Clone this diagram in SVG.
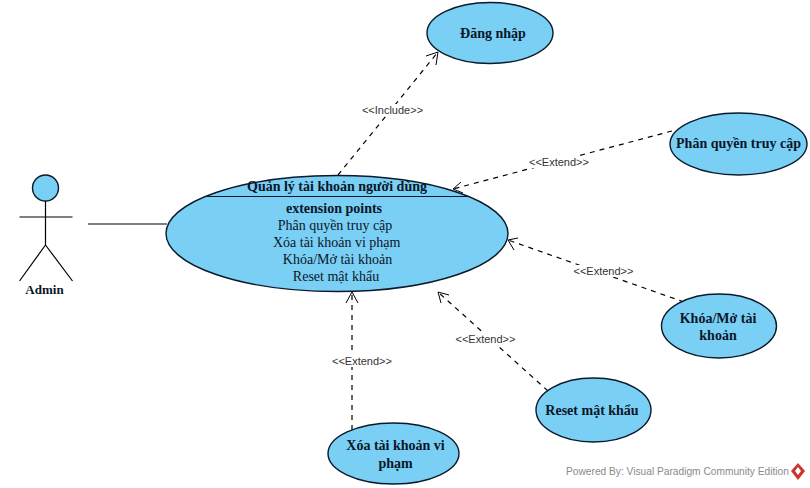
<svg xmlns="http://www.w3.org/2000/svg" width="810" height="488" viewBox="0 0 810 488">
<style>
.uc{fill:#7acff5;stroke:#0a1a2a;stroke-width:1.4}
.t{font-family:"Liberation Serif",serif;font-size:14px;fill:#0a1628;text-anchor:middle}
.b{font-weight:bold}
.l{font-family:"Liberation Sans",sans-serif;font-size:11px;fill:#333;text-anchor:middle}
.d{fill:none;stroke:#000;stroke-width:1.2;stroke-dasharray:5 5}
.h{fill:none;stroke:#000;stroke-width:1}
.s{fill:none;stroke:#000;stroke-width:1.2}
</style>
<rect width="810" height="488" fill="#fff"/>
<g id="connectors">
<line class="s" x1="88" y1="224" x2="167" y2="224"/>
<line class="d" x1="338" y1="175" x2="438" y2="52"/>
<path class="h" d="M426 56L438 52L436 65"/>
<line class="d" x1="672" y1="131" x2="453" y2="189"/>
<path class="h" d="M461 182L453 189L463 193"/>
<line class="d" x1="684" y1="302" x2="508" y2="240"/>
<path class="h" d="M518 238L508 240L514 250"/>
<line class="d" x1="548" y1="391" x2="438" y2="292"/>
<path class="h" d="M449 295L438 292L441 303"/>
<line class="d" x1="352" y1="430" x2="352" y2="292"/>
<path class="h" d="M346 303L352 292L358 303"/>
</g>
<g id="lbl-include"><rect x="361" y="104" width="63" height="12" fill="#fff"/><text class="l" x="392.500" y="114">&lt;&lt;Include&gt;&gt;</text></g>
<g id="lbl-e1"><rect x="528" y="156" width="62" height="12" fill="#fff"/><text class="l" x="559" y="166">&lt;&lt;Extend&gt;&gt;</text></g>
<g id="lbl-e2"><rect x="573" y="265" width="62" height="12" fill="#fff"/><text class="l" x="603.500" y="275">&lt;&lt;Extend&gt;&gt;</text></g>
<g id="lbl-e3"><rect x="455" y="333" width="62" height="12" fill="#fff"/><text class="l" x="485.500" y="343">&lt;&lt;Extend&gt;&gt;</text></g>
<g id="lbl-e4"><rect x="331" y="355" width="62" height="12" fill="#fff"/><text class="l" x="362" y="365">&lt;&lt;Extend&gt;&gt;</text></g>
<g id="admin">
<circle class="uc" cx="45.500" cy="188" r="13"/>
<path class="s" d="M45.500 201V245M19.500 217H72.500M45.500 245L19.500 281M45.500 245L72.500 281"/>
<text class="t b" x="44.500" y="294" style="font-size:13px">Admin</text>
</g>
<g id="main">
<ellipse class="uc" cx="337" cy="233.500" rx="171" ry="58"/>
<line x1="207" y1="196.500" x2="468" y2="196.500" stroke="#0a1a2a" stroke-width="1.2"/>
<text class="t b" x="337" y="191">Quản lý tài khoản người dùng</text>
<text class="t b" x="334" y="213">extension points</text>
<text class="t" x="335" y="230">Phân quyền truy cập</text>
<text class="t" x="336.700" y="247">Xóa tài khoản vi phạm</text>
<text class="t" x="337.500" y="264">Khóa/Mở tài khoản</text>
<text class="t" x="336" y="281">Reset mật khẩu</text>
</g>
<g id="dangnhap"><ellipse class="uc" cx="490" cy="33" rx="63" ry="30.500"/><text class="t b" x="493" y="38">Đăng nhập</text></g>
<g id="phanquyen"><ellipse class="uc" cx="738.500" cy="144" rx="68.500" ry="31"/><text class="t b" x="738.500" y="148">Phân quyền truy cập</text></g>
<g id="khoa"><ellipse class="uc" cx="719" cy="326" rx="57.500" ry="32"/><text class="t b" x="718" y="323">Khóa/Mở tài</text><text class="t b" x="718" y="340">khoản</text></g>
<g id="reset"><ellipse class="uc" cx="593.500" cy="410" rx="57.500" ry="32"/><text class="t b" x="592" y="415">Reset mật khẩu</text></g>
<g id="xoa"><ellipse class="uc" cx="393.500" cy="453.500" rx="65.500" ry="30.500"/><text class="t b" x="395.500" y="450">Xóa tài khoản vi</text><text class="t b" x="395.500" y="468">phạm</text></g>
<g id="watermark">
<text x="566" y="475" font-family="Liberation Sans,sans-serif" font-size="10.200" fill="#8a8a8a">Powered By: Visual Paradigm Community Edition</text>
<path d="M798 463L805 471L798 480L791 471Z" fill="#c8352b"/>
<path d="M798 467L801 471L798 475L795 471Z" fill="#fff"/>
</g>
</svg>
